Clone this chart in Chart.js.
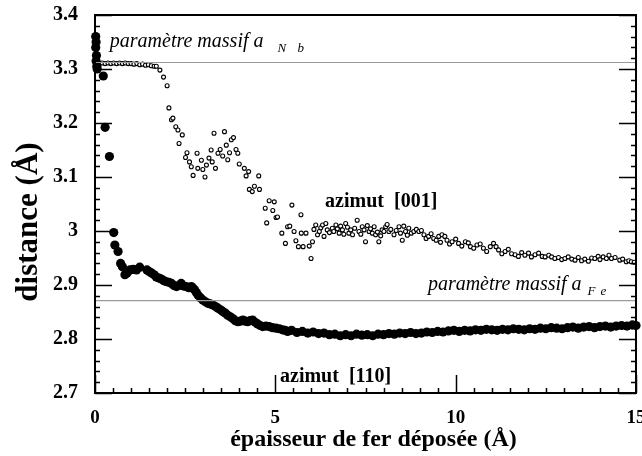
<!DOCTYPE html>
<html>
<head>
<meta charset="utf-8">
<script src="https://cdn.jsdelivr.net/npm/chart.js@4"></script>
<style>
  html, body { margin: 0; padding: 0; background: #fff; }
</style>
</head>
<body>
<canvas id="distanceChart" width="642" height="456"></canvas>
<script>
// tick labels
const xTicks = [0, 5, 10, 15];
const yTicks = [2.7, 2.8, 2.9, 3, 3.1, 3.2, 3.3, 3.4];

// bulk lattice parameters (Å)
const aNb = 3.312;
const aFe = 2.871;

// azimut [001] : open circles, [x (Å), distance (Å)]
const azimut001 = [
    [0.05, 3.312], [0.12, 3.310], [0.2, 3.311], [0.28, 3.310], [0.36, 3.311], [0.44, 3.310],
    [0.52, 3.311], [0.6, 3.310], [0.68, 3.311], [0.76, 3.310], [0.84, 3.311], [0.92, 3.310],
    [1.0, 3.310], [1.08, 3.309], [1.16, 3.310], [1.24, 3.308], [1.32, 3.309], [1.4, 3.307],
    [1.48, 3.308], [1.56, 3.306], [1.64, 3.305], [1.7, 3.305], [1.8, 3.298], [1.9, 3.285],
    [2.0, 3.269], [2.05, 3.228], [2.12, 3.206], [2.16, 3.209], [2.24, 3.193], [2.3, 3.187],
    [2.33, 3.162], [2.42, 3.178], [2.51, 3.136], [2.55, 3.145], [2.62, 3.128], [2.67, 3.119],
    [2.72, 3.103], [2.83, 3.144], [2.85, 3.116], [2.95, 3.131], [2.99, 3.114], [3.05, 3.100],
    [3.09, 3.122], [3.16, 3.135], [3.22, 3.150], [3.25, 3.128], [3.3, 3.181], [3.34, 3.116],
    [3.41, 3.144], [3.47, 3.151], [3.54, 3.139], [3.59, 3.184], [3.64, 3.159], [3.68, 3.132],
    [3.73, 3.145], [3.78, 3.169], [3.84, 3.173], [3.91, 3.151], [3.96, 3.144], [4.0, 3.124],
    [4.14, 3.116], [4.19, 3.102], [4.26, 3.110], [4.28, 3.077], [4.36, 3.073], [4.42, 3.083],
    [4.54, 3.102], [4.56, 3.077], [4.72, 3.042], [4.76, 3.015], [4.83, 3.056], [4.93, 3.038],
    [4.97, 3.054], [5.02, 3.025], [5.06, 3.026], [5.18, 2.996], [5.28, 2.977], [5.34, 3.008],
    [5.4, 3.009], [5.46, 3.048], [5.52, 2.999], [5.57, 2.982], [5.64, 2.971], [5.71, 3.030],
    [5.72, 2.996], [5.77, 2.971], [5.85, 2.996], [5.94, 2.972], [5.99, 2.949], [6.03, 2.980],
    [6.07, 3.003], [6.12, 3.011], [6.17, 2.993], [6.22, 2.999], [6.26, 3.006], [6.31, 3.011],
    [6.35, 2.990], [6.4, 3.014], [6.44, 3.002], [6.5, 2.997], [6.58, 3.005], [6.62, 2.999],
    [6.68, 3.011], [6.72, 3.004], [6.77, 2.996], [6.81, 3.009], [6.86, 3.002], [6.9, 2.994],
    [6.95, 3.014], [7.0, 3.007], [7.04, 2.996], [7.09, 3.002], [7.14, 2.993], [7.2, 3.005],
    [7.27, 3.020], [7.32, 2.999], [7.37, 2.994], [7.41, 3.008], [7.46, 3.002], [7.5, 2.980],
    [7.55, 3.010], [7.6, 2.999], [7.64, 3.004], [7.69, 2.996], [7.74, 3.008], [7.78, 2.993],
    [7.83, 2.998], [7.87, 2.980], [7.92, 2.991], [7.96, 3.002], [8.01, 2.999], [8.06, 3.008],
    [8.1, 3.012], [8.15, 2.999], [8.2, 3.003], [8.29, 2.993], [8.35, 3.001], [8.43, 3.008],
    [8.47, 2.996], [8.52, 2.983], [8.56, 3.009], [8.61, 2.999], [8.66, 2.992], [8.7, 3.005],
    [8.77, 2.996], [8.84, 2.999], [8.91, 3.003], [8.98, 2.999], [9.05, 3.001], [9.12, 2.993],
    [9.18, 2.986], [9.25, 2.990], [9.32, 2.995], [9.39, 2.986], [9.46, 2.983], [9.53, 2.990],
    [9.58, 2.979], [9.62, 2.993], [9.7, 2.990], [9.76, 2.983], [9.83, 2.976], [9.9, 2.980],
    [10.0, 2.985], [10.08, 2.977], [10.17, 2.972], [10.27, 2.980], [10.35, 2.978], [10.41, 2.971],
    [10.5, 2.968], [10.59, 2.974], [10.68, 2.976], [10.77, 2.968], [10.86, 2.962], [10.96, 2.971],
    [11.05, 2.977], [11.12, 2.971], [11.19, 2.965], [11.28, 2.958], [11.37, 2.962], [11.46, 2.966],
    [11.55, 2.958], [11.65, 2.956], [11.74, 2.953], [11.83, 2.960], [11.92, 2.955], [12.02, 2.959],
    [12.1, 2.952], [12.2, 2.956], [12.3, 2.959], [12.4, 2.953], [12.48, 2.952], [12.58, 2.955],
    [12.66, 2.952], [12.75, 2.949], [12.85, 2.951], [12.94, 2.947], [13.03, 2.949], [13.12, 2.952],
    [13.22, 2.948], [13.31, 2.946], [13.4, 2.951], [13.49, 2.945], [13.58, 2.948], [13.68, 2.944],
    [13.77, 2.950], [13.86, 2.949], [13.95, 2.953], [14.0, 2.947], [14.09, 2.952], [14.18, 2.949],
    [14.25, 2.955], [14.32, 2.949], [14.42, 2.951], [14.55, 2.946], [14.63, 2.948], [14.73, 2.943],
    [14.8, 2.945], [14.87, 2.943], [14.95, 2.942]
];

// azimut [110] : filled circles, [x (Å), distance (Å)]
const azimut110 = [
    [0.02, 3.360], [0.03, 3.350], [0.02, 3.340], [0.04, 3.325], [0.03, 3.315], [0.05, 3.305],
    [0.06, 3.300], [0.23, 3.287], [0.28, 3.192], [0.4, 3.138], [0.52, 2.997], [0.55, 2.974],
    [0.64, 2.962], [0.71, 2.940], [0.76, 2.934], [0.83, 2.919], [0.89, 2.922], [0.97, 2.928],
    [1.06, 2.929], [1.15, 2.928], [1.24, 2.933], [1.44, 2.928], [1.5, 2.925], [1.57, 2.922],
    [1.64, 2.919], [1.7, 2.915], [1.77, 2.913], [1.84, 2.911], [1.91, 2.908], [1.98, 2.906],
    [2.05, 2.905], [2.12, 2.903], [2.19, 2.899], [2.26, 2.897], [2.32, 2.899], [2.39, 2.903],
    [2.46, 2.898], [2.53, 2.897], [2.6, 2.895], [2.67, 2.897], [2.72, 2.894], [2.76, 2.891],
    [2.81, 2.886], [2.86, 2.881], [2.93, 2.876], [2.99, 2.872], [3.06, 2.869], [3.13, 2.866],
    [3.2, 2.865], [3.27, 2.863], [3.34, 2.860], [3.41, 2.857], [3.48, 2.854], [3.54, 2.851],
    [3.61, 2.848], [3.68, 2.844], [3.75, 2.841], [3.82, 2.838], [3.89, 2.834], [3.96, 2.832],
    [4.03, 2.833], [4.1, 2.835], [4.17, 2.833], [4.23, 2.832], [4.3, 2.834], [4.37, 2.835],
    [4.44, 2.831], [4.51, 2.828], [4.58, 2.825], [4.65, 2.823], [4.74, 2.824], [4.83, 2.823],
    [4.92, 2.821], [5.02, 2.820], [5.11, 2.819], [5.2, 2.817], [5.27, 2.816], [5.34, 2.814],
    [5.45, 2.816], [5.6, 2.812], [5.75, 2.814], [5.9, 2.811], [6.05, 2.813], [6.2, 2.810],
    [6.35, 2.811], [6.5, 2.808], [6.65, 2.809], [6.8, 2.806], [6.95, 2.808], [7.1, 2.806],
    [7.25, 2.809], [7.4, 2.807], [7.55, 2.808], [7.7, 2.806], [7.85, 2.809], [8.0, 2.808],
    [8.15, 2.810], [8.3, 2.809], [8.45, 2.811], [8.6, 2.810], [8.75, 2.812], [8.9, 2.810],
    [9.05, 2.811], [9.2, 2.813], [9.35, 2.812], [9.5, 2.814], [9.65, 2.813], [9.8, 2.815],
    [9.95, 2.816], [10.1, 2.814], [10.25, 2.816], [10.4, 2.815], [10.55, 2.817], [10.7, 2.816],
    [10.85, 2.818], [11.0, 2.817], [11.15, 2.816], [11.3, 2.818], [11.45, 2.817], [11.6, 2.819],
    [11.75, 2.818], [11.9, 2.817], [12.05, 2.819], [12.2, 2.818], [12.35, 2.820], [12.5, 2.819],
    [12.65, 2.821], [12.8, 2.820], [12.95, 2.819], [13.1, 2.821], [13.25, 2.822], [13.4, 2.820],
    [13.55, 2.822], [13.7, 2.823], [13.85, 2.821], [14.0, 2.823], [14.15, 2.824], [14.3, 2.822],
    [14.45, 2.824], [14.6, 2.825], [14.75, 2.824], [14.9, 2.826], [15.0, 2.825]
];

const serif = '"Liberation Serif", "Times New Roman", serif';

const toPoints = arr => arr.map(p => ({ x: p[0], y: p[1] }));

// frame + inward ticks, like the original plot
const frameTicks = {
    id: 'frameTicks',
    afterDraw(chart) {
        const { ctx, chartArea: a, scales: { x, y } } = chart;
        ctx.save();
        ctx.strokeStyle = '#000';
        ctx.lineWidth = 2;
        ctx.strokeRect(a.left, a.top, a.right - a.left, a.bottom - a.top);
        ctx.lineWidth = 1.5;
        ctx.beginPath();
        for (let i = 0; i <= 35; i++) {
            const py = Math.round(y.getPixelForValue(2.7 + i * 0.02)) + 0.5;
            const len = i % 5 === 0 ? 17 : 5;
            ctx.moveTo(a.left, py); ctx.lineTo(a.left + len, py);
            ctx.moveTo(a.right, py); ctx.lineTo(a.right - len, py);
        }
        for (let i = 0; i <= 30; i++) {
            const px = Math.round(x.getPixelForValue(i * 0.5)) + 0.5;
            const len = i % 10 === 0 ? 18 : 5;
            ctx.moveTo(px, a.bottom); ctx.lineTo(px, a.bottom - len);
        }
        ctx.stroke();
        ctx.restore();
    }
};

// "paramètre massif a X" with a spaced subscript
function drawParam(ctx, px, py, sub, gap, step) {
    ctx.font = 'italic 20px ' + serif;
    const main = 'paramètre massif a';
    ctx.fillText(main, px, py);
    const sx = px + ctx.measureText(main).width + gap;
    ctx.font = 'italic 13px ' + serif;
    ctx.fillText(sub[0], sx, py + 5);
    ctx.fillText(sub[1], sx + step, py + 5);
}

const notes = {
    id: 'notes',
    afterDatasetsDraw(chart) {
        const { ctx, chartArea: a, scales: { x, y } } = chart;
        ctx.save();
        ctx.fillStyle = '#000';
        ctx.textBaseline = 'alphabetic';
        ctx.textAlign = 'left';
        drawParam(ctx, x.getPixelForValue(0.41), y.getPixelForValue(3.341), 'Nb', 14, 20);
        drawParam(ctx, x.getPixelForValue(9.23), y.getPixelForValue(2.891), 'Fe', 6, 13);
        ctx.font = 'bold 20px ' + serif;
        ctx.fillText('azimut  [001]', x.getPixelForValue(6.38), y.getPixelForValue(3.045));
        ctx.fillText('azimut  [110]', x.getPixelForValue(5.13), y.getPixelForValue(2.721));

        // axis titles
        ctx.textAlign = 'center';
        ctx.font = 'bold 24px ' + serif;
        ctx.fillText('épaisseur de fer déposée (Å)', (a.left + a.right) / 2 + 8, 446);
        ctx.translate(37, (a.top + a.bottom) / 2 + 18);
        ctx.rotate(-Math.PI / 2);
        ctx.font = 'bold 31px ' + serif;
        ctx.fillText('distance (Å)', 0, 0);
        ctx.restore();
    }
};

new Chart(document.getElementById('distanceChart').getContext('2d'), {
    type: 'scatter',
    data: {
        datasets: [
            {
                label: 'a Nb',
                data: [{ x: 0, y: aNb }, { x: 15, y: aNb }],
                showLine: true,
                borderColor: '#9a9a9a',
                borderWidth: 1.2,
                pointRadius: 0
            },
            {
                label: 'a Fe',
                data: [{ x: 0, y: aFe }, { x: 15, y: aFe }],
                showLine: true,
                borderColor: '#9a9a9a',
                borderWidth: 1.2,
                pointRadius: 0
            },
            {
                label: 'azimut [110]',
                data: toPoints(azimut110),
                pointRadius: 4.6,
                pointBackgroundColor: '#000',
                pointBorderColor: '#000',
                pointBorderWidth: 0,
                clip: false
            },
            {
                label: 'azimut [001]',
                data: toPoints(azimut001),
                pointRadius: 2,
                pointBackgroundColor: '#fff',
                pointBorderColor: '#000',
                pointBorderWidth: 1.1,
                clip: false
            }
        ]
    },
    options: {
        responsive: false,
        animation: false,
        layout: { padding: { top: 15, right: 6, left: 0, bottom: 0 } },
        plugins: {
            legend: { display: false },
            tooltip: { enabled: false }
        },
        scales: {
            x: {
                type: 'linear',
                min: 0,
                max: 15,
                grid: { display: false, drawTicks: false },
                border: { display: false },
                afterFit: scale => { scale.height = 63; scale.paddingLeft = 0; scale.paddingRight = 0; },
                afterBuildTicks: scale => { scale.ticks = xTicks.map(v => ({ value: v })); },
                ticks: {
                    padding: 14,
                    color: '#000',
                    font: { family: serif, size: 19, weight: 'bold' },
                    callback: v => String(v)
                }
            },
            y: {
                type: 'linear',
                min: 2.7,
                max: 3.4,
                grid: { display: false, drawTicks: false },
                border: { display: false },
                afterFit: scale => { scale.width = 95; scale.paddingTop = 0; scale.paddingBottom = 0; },
                afterBuildTicks: scale => { scale.ticks = yTicks.map(v => ({ value: v })); },
                ticks: {
                    padding: 17,
                    color: '#000',
                    font: { family: serif, size: 20, weight: 'bold' },
                    callback: v => String(v)
                }
            }
        }
    },
    plugins: [frameTicks, notes]
});
</script>
</body>
</html>
